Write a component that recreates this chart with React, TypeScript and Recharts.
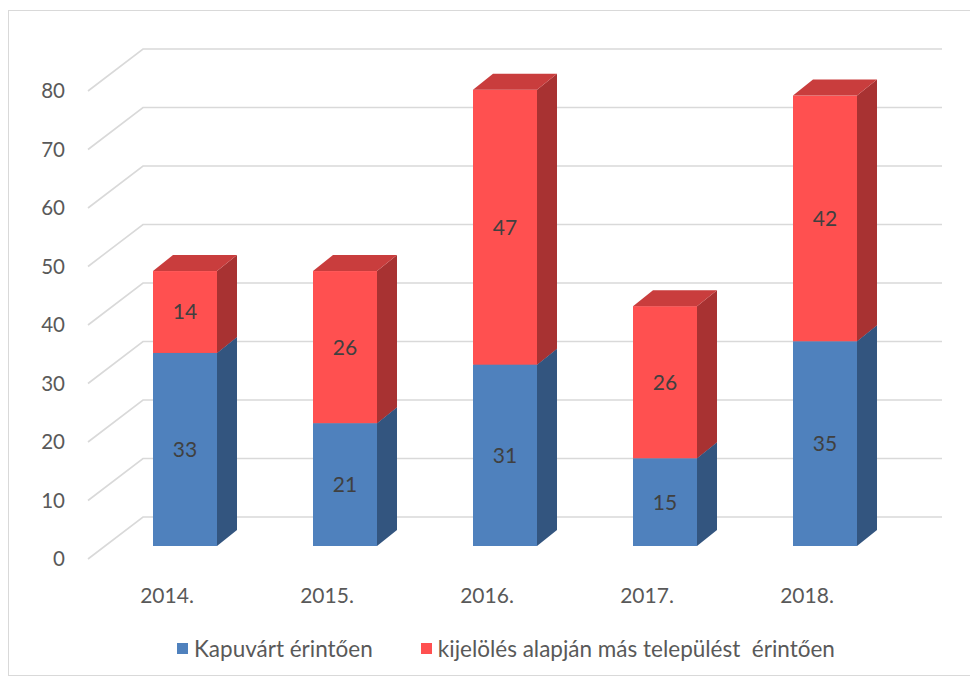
import React from 'react'
import { BarChart, Bar, XAxis, YAxis, CartesianGrid, Legend, LabelList } from 'recharts'

const years = ['2014.', '2015.', '2016.', '2017.', '2018.']
const kapuvar = [33, 21, 31, 15, 35]
const masTelepules = [14, 26, 47, 26, 42]
const yTicks = [0, 10, 20, 30, 40, 50, 60, 70, 80]

const seriesNames = ['Kapuvárt érintően', 'kijelölés alapján más települést  érintően']

const chartData = years.map((year, i) => ({
  year,
  kapuvar: kapuvar[i],
  mas: masTelepules[i],
}))

const FONT = 'Lato, "Open Sans", sans-serif'
const DX = 20
const DY = 16

const makeShape = (front: string, side: string, top: string | null) => (props: any) => {
  const { x, y, width, height } = props
  if (!height) return null
  return (
    <g>
      <rect x={x} y={y} width={width} height={height} fill={front} />
      <polygon
        points={`${x + width},${y} ${x + width + DX},${y - DY} ${x + width + DX},${y + height - DY} ${x + width},${y + height}`}
        fill={side}
      />
      {top && (
        <polygon
          points={`${x},${y} ${x + DX},${y - DY} ${x + width + DX},${y - DY} ${x + width},${y}`}
          fill={top}
        />
      )}
    </g>
  )
}

const blueShape = makeShape('#4f81bd', '#33557f', '#3f6797')
const redShape = makeShape('#ff5050', '#a83232', '#c93d3d')

const gridLine = (props: any) => {
  const { x1, x2, y1, key } = props
  const y = y1
  return (
    <polyline
      key={key}
      points={`${x1 - 17},${y + 13} ${x1 + 38},${y - 29} ${x2 + 37},${y - 29}`}
      fill="none"
      stroke="#d9d9d9"
      strokeWidth={1.6}
    />
  )
}

const YTick = (props: any) => {
  const { y, payload } = props
  return (
    <text x={65} y={y + 20} textAnchor="end" fill="#595959" fontSize={20.5} fontFamily={FONT}>
      {payload.value}
    </text>
  )
}

const XTick = (props: any) => {
  const { x, payload } = props
  return (
    <text x={x - 18} y={603} textAnchor="middle" fill="#595959" fontSize={21} fontFamily={FONT}>
      {payload.value}
    </text>
  )
}

const renderLegend = (props: any) => {
  const { payload } = props
  return (
    <div style={{ display: 'flex', alignItems: 'center', fontFamily: FONT, fontSize: 22.5, color: '#595959' }}>
      {payload.map((entry: any, i: number) => (
        <div key={i} style={{ display: 'flex', alignItems: 'center', marginRight: 48 }}>
          <span style={{ width: 11, height: 11, background: entry.color, marginRight: 6, display: 'inline-block' }} />
          <span style={{ whiteSpace: 'pre' }}>{entry.value}</span>
        </div>
      ))}
    </div>
  )
}

export default function App() {
  return (
    <div style={{ paddingTop: 2 }}>
      <div
        style={{
          position: 'relative',
          width: 968,
          height: 666,
          boxSizing: 'border-box',
          border: '1px solid #d9d9d9',
          background: '#fff',
        }}
      >
        <div style={{ position: 'absolute', left: -9, top: -11 }}>
          <BarChart
            width={978}
            height={682}
            data={chartData}
            margin={{ top: 78, right: 73, bottom: 106, left: 45 }}
            barCategoryGap="30%"
          >
            <CartesianGrid vertical={false} horizontal={gridLine} />
            <XAxis dataKey="year" axisLine={false} tickLine={false} tick={<XTick />} height={30} />
            <YAxis
              domain={[0, 80]}
              ticks={yTicks}
              axisLine={false}
              tickLine={false}
              tick={<YTick />}
              width={60}
              interval={0}
            />
            <Legend
              layout="horizontal"
              verticalAlign="middle"
              align="center"
              content={renderLegend}
              wrapperStyle={{ top: 635, left: 177, width: 780 }}
            />
            <Bar dataKey="kapuvar" name={seriesNames[0]} stackId="a" fill="#4f81bd" shape={blueShape} isAnimationActive={false}>
              <LabelList dataKey="kapuvar" position="center" fill="#404040" fontSize={21} fontFamily={FONT} />
            </Bar>
            <Bar dataKey="mas" name={seriesNames[1]} stackId="a" fill="#ff5050" shape={redShape} isAnimationActive={false}>
              <LabelList dataKey="mas" position="center" fill="#404040" fontSize={21} fontFamily={FONT} />
            </Bar>
          </BarChart>
        </div>
      </div>
    </div>
  )
}
